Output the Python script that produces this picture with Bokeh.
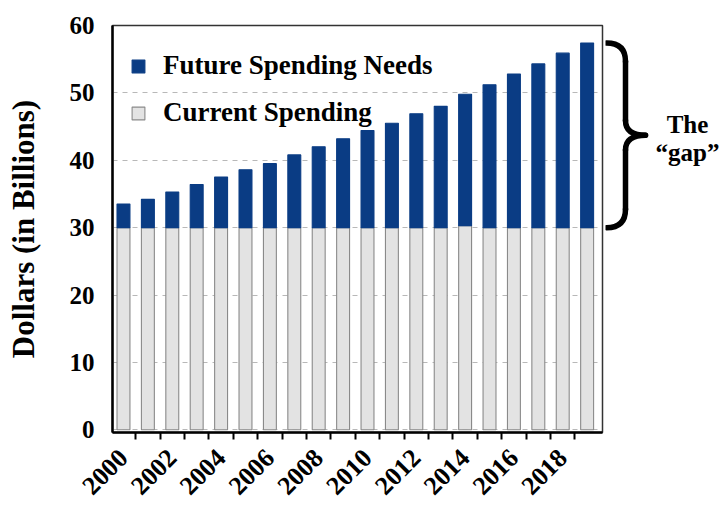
import math
from bokeh.plotting import figure
from bokeh.layouts import row
from bokeh.models import ColumnDataSource, Legend, LegendItem, FixedTicker, Range1d
from bokeh.core.properties import value
from bokeh.embed import file_html
from bokeh.resources import INLINE

# ---- data ----
years = [2000, 2001, 2002, 2003, 2004, 2005, 2006, 2007, 2008, 2009,
         2010, 2011, 2012, 2013, 2014, 2015, 2016, 2017, 2018, 2019]
current_spending = [30, 30, 30, 30, 30, 30, 30, 30, 30, 30,
                    30, 30, 30, 30, 30.3, 30, 30, 30, 30, 30]
future_needs = [3.5, 4.2, 5.3, 6.4, 7.5, 8.6, 9.5, 10.8, 12.0, 13.2,
                14.4, 15.5, 16.9, 18.0, 19.5, 21.2, 22.8, 24.3, 25.9, 27.4]
tick_years = [2000, 2002, 2004, 2006, 2008, 2010, 2012, 2014, 2016, 2018]
tick_labels = ["2000", "2002", "2004", "2006", "2008",
               "2010", "2012", "2014", "2016", "2018"]
y_ticks = [0, 10, 20, 30, 40, 50, 60]

FONT = "Liberation Serif"
BLUE = "#0a3c84"
GRAY = "#e3e3e3"
GRAY_LINE = "#8a8a8a"

source = ColumnDataSource(dict(year=years, current=current_spending, future=future_needs))

y_range = Range1d(-0.4, 60)
p = figure(frame_width=490, frame_height=407,
           x_range=Range1d(1999.55, 2019.63), y_range=y_range,
           min_border_left=112, min_border_right=3, min_border_top=25, min_border_bottom=76,
           output_backend="svg", toolbar_location=None)

rs = p.vbar_stack(["current", "future"], x="year", width=0.53, source=source,
                  fill_color=[GRAY, BLUE], line_color=[GRAY_LINE, BLUE], line_width=1.1)
r_current, r_future = rs

# axes
p.xaxis.ticker = FixedTicker(ticks=tick_years, minor_ticks=[y + 0.5 for y in years[:-1]])
p.xaxis.major_label_overrides = {t: l for t, l in zip(tick_years, tick_labels)}
p.xaxis.major_label_orientation = math.pi / 4
p.xaxis.major_label_text_font = FONT
p.xaxis.major_label_text_font_style = "bold"
p.xaxis.major_label_text_font_size = "26px"
p.xaxis.major_label_text_color = "black"
p.xaxis.major_tick_line_color = None
p.xaxis.minor_tick_line_color = "black"
p.xaxis.minor_tick_line_width = 2
p.xaxis.minor_tick_out = 7
p.xaxis.minor_tick_in = 0
p.xaxis.axis_line_width = 2.5
p.xaxis.axis_line_color = "black"
p.xaxis.major_label_standoff = 14

p.yaxis.ticker = FixedTicker(ticks=y_ticks)
p.yaxis.major_label_text_font = FONT
p.yaxis.major_label_text_font_style = "bold"
p.yaxis.major_label_text_font_size = "25px"
p.yaxis.major_label_text_color = "black"
p.yaxis.major_tick_line_color = None
p.yaxis.minor_tick_line_color = None
p.yaxis.axis_line_width = 2.5
p.yaxis.axis_line_color = "black"
p.yaxis.major_label_standoff = 12
p.yaxis.axis_label = "Dollars (in Billions)"
p.yaxis.axis_label_text_font = FONT
p.yaxis.axis_label_text_font_style = "bold"
p.yaxis.axis_label_text_font_size = "31px"
p.yaxis.axis_label_text_color = "black"
p.yaxis.axis_label_standoff = 26

p.xgrid.grid_line_color = None
p.ygrid.grid_line_color = "#b8b8b8"
p.ygrid.grid_line_dash = "5 5"
p.ygrid.grid_line_width = 1

p.outline_line_color = "#333333"
p.outline_line_width = 1.5
p.outline_line_alpha = 1

legend = Legend(items=[LegendItem(label="Future Spending Needs", renderers=[r_future]),
                       LegendItem(label="Current Spending", renderers=[r_current])],
                location=(18, 304), orientation="vertical",
                glyph_width=16, glyph_height=16, label_standoff=17, spacing=16,
                padding=0, margin=0,
                label_text_font=FONT, label_text_font_style="bold",
                label_text_font_size="27px", label_text_color="black",
                border_line_color=None, background_fill_alpha=0)
p.add_layout(legend)

# ---- side panel with the brace marking the gap ----
side = figure(frame_width=116, frame_height=407, x_range=Range1d(0, 116), y_range=y_range,
              min_border_left=0, min_border_right=0, min_border_top=25, min_border_bottom=76,
              x_axis_type=None, y_axis_type=None, output_backend="svg", toolbar_location=None)
side.grid.visible = False
side.outline_line_color = None

gap_bottom = current_spending[-1]
gap_top = current_spending[-1] + future_needs[-1]
gap_mid = (gap_bottom + gap_top) / 2
h = gap_top - gap_mid
hook = 0.2 * h
tip = 0.16 * h
bx0, bx1, bx2 = 1, 20, 40
brace_style = dict(line_color="black", line_width=5.5, line_cap="round")
side.quadratic(x0=[bx0, bx2, bx1, bx1], y0=[gap_top, gap_mid, gap_mid + tip, gap_bottom + hook],
               x1=[bx1, bx1, bx2, bx0], y1=[gap_top - hook, gap_mid - tip, gap_mid, gap_bottom],
               cx=[bx1, bx1, bx1, bx1], cy=[gap_top, gap_mid, gap_mid, gap_bottom], **brace_style)
side.segment(x0=[bx1, bx1], y0=[gap_top - hook, gap_mid - tip],
             x1=[bx1, bx1], y1=[gap_mid + tip, gap_bottom + hook], **brace_style)
side.text(x=[82, 82], y=[gap_mid + 1.6, gap_mid - 2.5], text=["The", "\u201cgap\u201d"],
          text_font=value(FONT), text_font_style="bold", text_font_size="25px",
          text_align="center", text_baseline="middle", text_color="black")

layout = row(p, side)
open("out.html", "w").write(file_html(layout, INLINE))
